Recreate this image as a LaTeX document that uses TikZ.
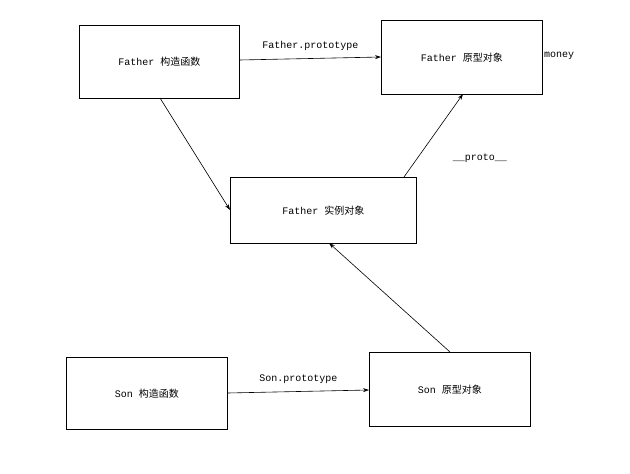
\documentclass[tikz,border=0pt]{standalone}
\usepackage{fontspec}
\setmainfont{Liberation Mono}
\newfontfamily\cjk{Noto Sans CJK SC}
\usetikzlibrary{arrows.meta}
\begin{document}
\begin{tikzpicture}[x=1pt,y=-1pt,
  box/.style={draw,line width=0.8pt,inner sep=0pt,anchor=north west,font=\fontsize{10}{12}\selectfont},
  arr/.style={-{Stealth[length=6pt,width=4pt]},line width=0.6pt},
  lab/.style={font=\fontsize{10}{12}\selectfont}]
\useasboundingbox[fill=white] (0,0) rectangle (630,474);
\node[box,minimum width=160pt,minimum height=73pt] (fc) at (79,25) {Father {\cjk 构造函数}};
\node[box,minimum width=161pt,minimum height=74pt] (fp) at (381,20) {Father {\cjk 原型对象}};
\node[box,minimum width=186pt,minimum height=66pt] (fi) at (230,177) {Father {\cjk 实例对象}};
\node[box,minimum width=161pt,minimum height=72pt] (sc) at (66,357) {Son {\cjk 构造函数}};
\node[box,minimum width=161pt,minimum height=74pt] (sp) at (369,352) {Son {\cjk 原型对象}};
\node[lab] (money) at (559,56) {money};
\draw[arr] (fc.east |- 0,60) -- (fp.west |- 0,57) node[lab,midway,above=4pt] {Father.prototype};
\draw[arr] (160,98) -- (fi.west |- 0,210);
\draw[arr] (404,177) -- (463,94);
\node[lab] (proto) at (480,158) {\_\_proto\_\_};
\draw[arr] (sc.east |- 0,393) -- (sp.west |- 0,390) node[lab,midway,above=4pt] {Son.prototype};
\draw[arr] (450,352) -- (329,243);
\end{tikzpicture}
\end{document}
